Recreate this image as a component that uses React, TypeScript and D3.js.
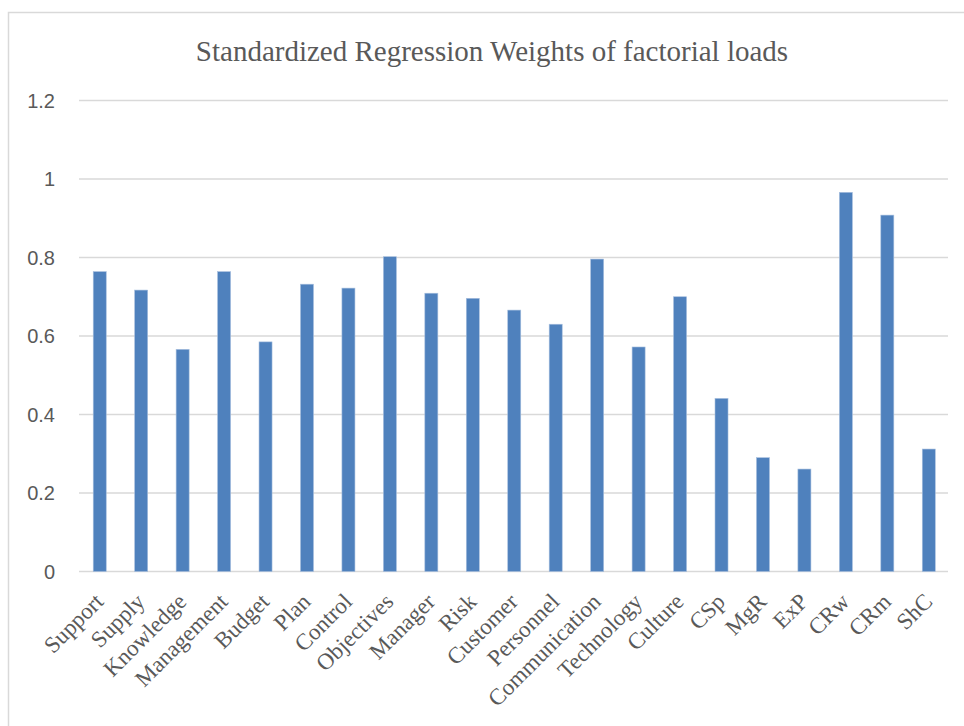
import React from "react";
import * as d3 from "d3";

const categories = ["Support","Supply","Knowledge","Management","Budget","Plan","Control","Objectives","Manager","Risk","Customer","Personnel","Communication","Technology","Culture","CSp","MgR","ExP","CRw","CRm","ShC"];
const values = [0.764,0.717,0.566,0.764,0.585,0.732,0.722,0.802,0.709,0.696,0.666,0.630,0.796,0.572,0.700,0.441,0.290,0.261,0.966,0.908,0.312];
const yTicks = [0, 0.2, 0.4, 0.6, 0.8, 1, 1.2];
const title = "Standardized Regression Weights of factorial loads";

export default function App() {
  const W = 964, H = 726;
  const x = d3.scaleBand<string>().domain(categories).range([79, 949.5]).paddingInner(0.686).paddingOuter(0.343);
  const y = d3.scaleLinear().domain([0, 1.2]).range([571.5, 100.5]);
  return (
    <svg width={W} height={H} style={{ position: "absolute", left: 0, top: 0, background: "#fff" }}>
      <rect x={8.5} y={12.5} width={W + 10} height={H + 10} fill="#fff" stroke="#d9d9d9" strokeWidth={1.5} />
      <text x={492} y={61} textAnchor="middle" fontFamily="'Liberation Serif', serif" fontSize={29} fill="#595959">{title}</text>
      {yTicks.map((t) => (
        <g key={t}>
          <line x1={79} x2={948} y1={y(t)} y2={y(t)} stroke="#d9d9d9" strokeWidth={1.5} />
          <text x={55} y={y(t)} dy="0.35em" textAnchor="end" fontFamily="'Liberation Sans', Arial, sans-serif" fontSize={20} fill="#595959">{d3.format("~g")(t)}</text>
        </g>
      ))}
      {categories.map((c, i) => (
        <rect key={c} x={x(c)} y={y(values[i])} width={x.bandwidth()} height={y(0) - y(values[i])} fill="#4f81bd" stroke="#a7bfde" strokeWidth={0.6} />
      ))}
      {categories.map((c) => {
        const cx = (x(c) as number) + x.bandwidth() / 2;
        return (
          <text key={c} transform={`translate(${cx + 5},${603}) rotate(-45)`} textAnchor="end" fontFamily="'Liberation Serif', serif" fontSize={23} fill="#595959">{c}</text>
        );
      })}
    </svg>
  );
}
